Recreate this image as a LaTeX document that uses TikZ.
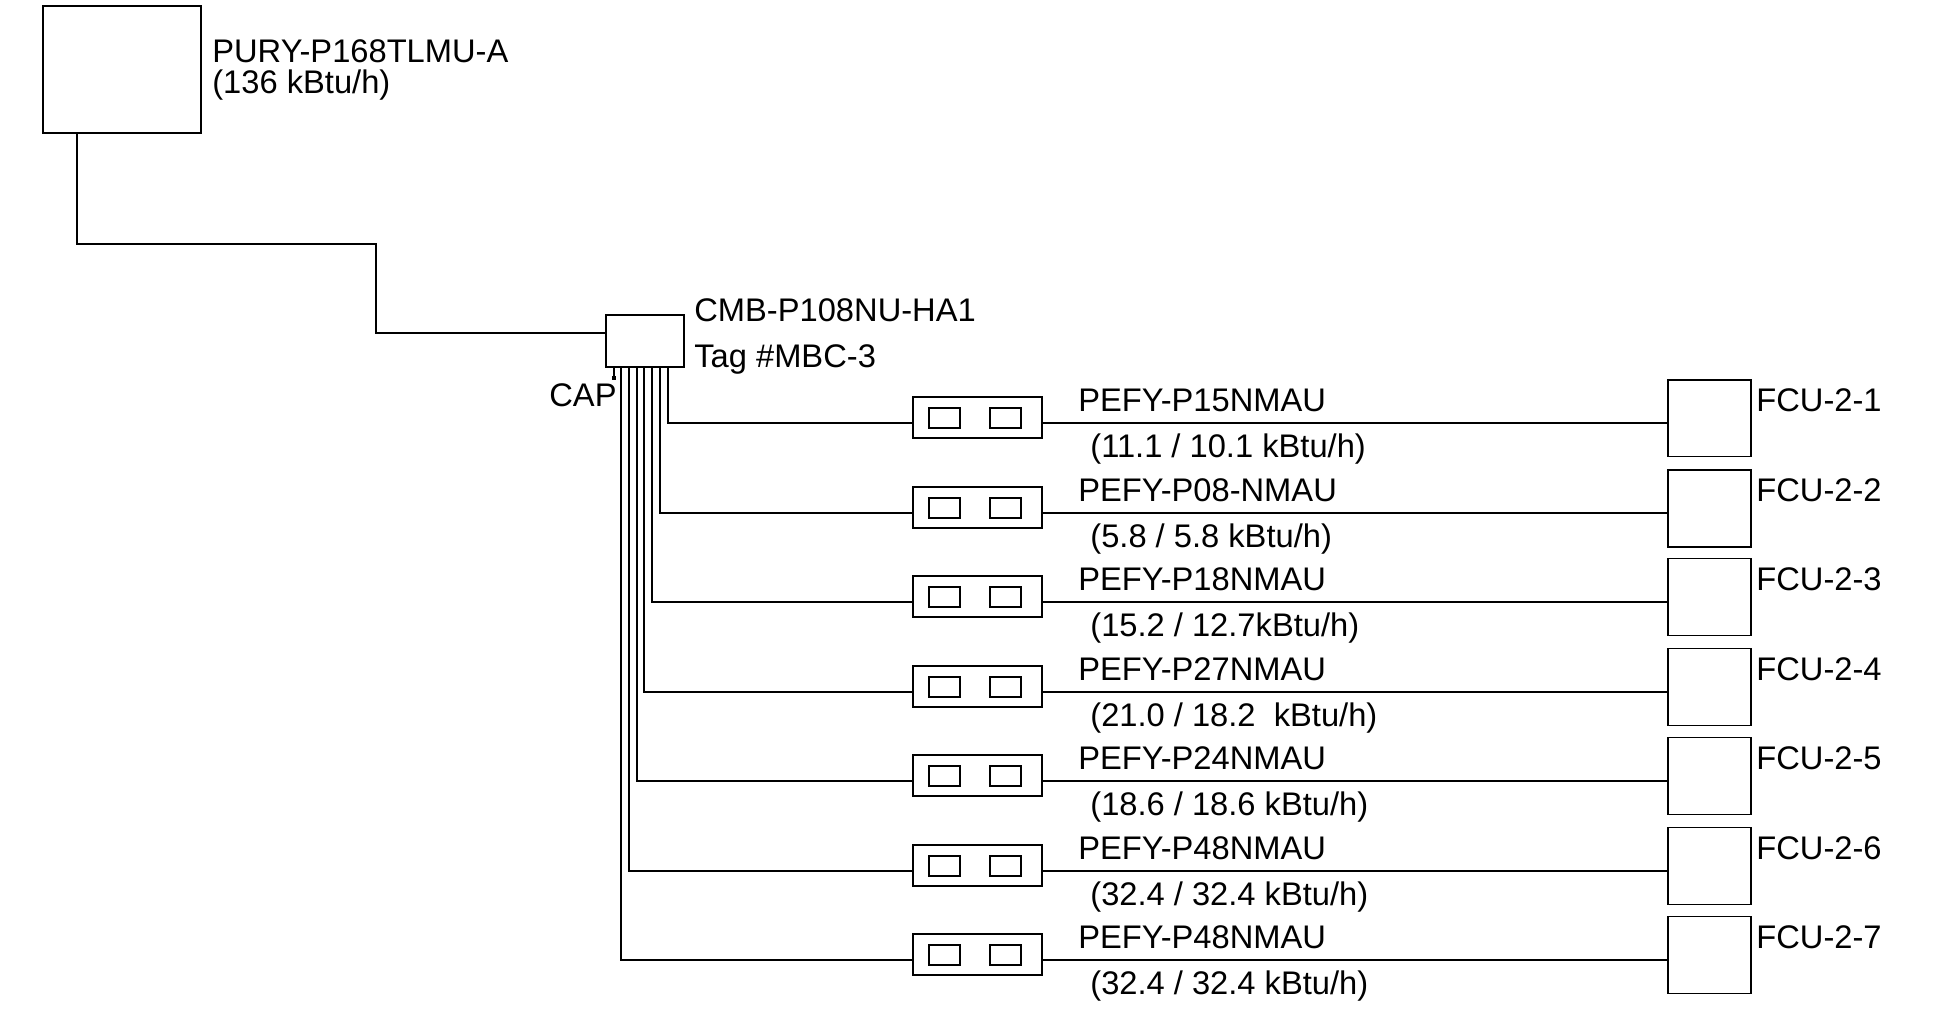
\documentclass[tikz,border=0pt]{standalone}
\usepackage{fontspec}
\setmainfont{Liberation Sans}
\tikzset{
  unitbox/.style={draw, line width=1.134pt, inner sep=0pt, outer sep=0pt},
  pipe/.style={line width=1.134pt},
  finepipe/.style={line width=0.6pt},
  lbl/.style={anchor=base west, inner sep=0pt, font=\fontsize{18.6}{22}\selectfont}
}
\begin{document}
\begin{tikzpicture}[x=0.02cm, y=-0.02cm]
  \useasboundingbox (0,0) rectangle (1936,1008);
  % outdoor unit and branch controller
  \node[unitbox, minimum width=3.16cm, minimum height=2.54cm] (outdoor) at (122,69.5) {};
  \node[unitbox, minimum width=1.56cm, minimum height=1.04cm] (cmb) at (645,341) {};
  \node[lbl] (outdoorname) at (212,62) {PURY-P168TLMU-A};
  \node[lbl] (outdoorload) at (212,93) {(136 kBtu/h)};
  \node[lbl] (cmbname) at (694,321) {CMB-P108NU-HA1};
  \node[lbl] (cmbtag) at (694,367) {Tag \#MBC-3};
  \node[lbl] (cap) at (549,406) {CAP};
  % main pipe
  \coordinate (outlet) at (77,133);
  \coordinate (bend1) at (77,244);
  \coordinate (bend2) at (376,244);
  \coordinate (bend3) at (376,333);
  \coordinate (inlet) at (606,333);
  \draw[pipe] (outlet) -- (bend1) -- (bend2) -- (bend3) -- (inlet);
  % capped port
  \coordinate (capa) at (614,367);
  \coordinate (capb) at (614,378);
  \draw[finepipe] (capa) -- (capb);
  \fill (612,376) rectangle (616,380);
  % 7 branches
  \foreach \i/\x/\y/\name/\load/\w in {
    1/668/423/PEFY-P15NMAU/{(11.1 / 10.1 kBtu/h)}/1.134pt,
    2/660/513/PEFY-P08-NMAU/{(5.8 / 5.8 kBtu/h)}/1.134pt,
    3/652/602/PEFY-P18NMAU/{(15.2 / 12.7kBtu/h)}/0.7pt,
    4/644/692/PEFY-P27NMAU/{(21.0 / 18.2~~kBtu/h)}/0.7pt,
    5/637/781/PEFY-P24NMAU/{(18.6 / 18.6 kBtu/h)}/0.7pt,
    6/629/871/PEFY-P48NMAU/{(32.4 / 32.4 kBtu/h)}/0.7pt,
    7/621/960/PEFY-P48NMAU/{(32.4 / 32.4 kBtu/h)}/0.7pt} {
    \node[unitbox, minimum width=2.58cm, minimum height=0.82cm] (valve\i) at (977.5,\y-5.5) {};
    \node[unitbox, minimum width=0.62cm, minimum height=0.4cm] (flapa\i) at (944.5,\y-5) {};
    \node[unitbox, minimum width=0.62cm, minimum height=0.4cm] (flapb\i) at (1005.5,\y-5) {};
    \node[unitbox, line width=\w, minimum width=1.66cm, minimum height=1.54cm] (fcu\i) at (1709.5,\y-5) {};
    \node[lbl] (name\i) at (1078,\y-12) {\name};
    \node[lbl] (load\i) at (1090,\y+34) {\load};
    \node[lbl] (tag\i) at (1756,\y-12) {FCU-2-\i};
    \coordinate (port\i) at (\x,367);
    \coordinate (elbow\i) at (\x,\y);
    \coordinate (inv\i) at (913,\y);
    \coordinate (outv\i) at (1042,\y);
    \coordinate (joint\i) at (1068,\y);
    \coordinate (inf\i) at (1668,\y);
    \draw[pipe] (port\i) -- (elbow\i) -- (inv\i);
    \draw[pipe] (outv\i) -- (joint\i);
    \draw[finepipe] (joint\i) -- (inf\i);
  }
\end{tikzpicture}
\end{document}
